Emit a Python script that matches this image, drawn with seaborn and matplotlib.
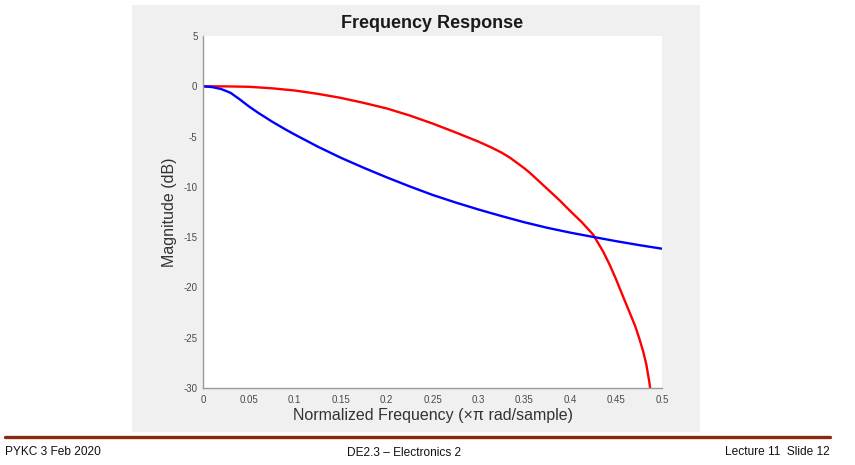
import numpy as np
import pandas as pd
import matplotlib
matplotlib.use("Agg")
import matplotlib.pyplot as plt
from matplotlib.patches import Rectangle
from matplotlib.lines import Line2D
import seaborn as sns

# ─── DATA ──────────────────────────────────────────────
red_freq = [0, 0.025, 0.05, 0.075, 0.1, 0.125, 0.15, 0.175, 0.2, 0.225, 0.25, 0.275,
            0.3, 0.3126, 0.325, 0.3344, 0.35, 0.356, 0.375, 0.388, 0.4, 0.4125, 0.425,
            0.436, 0.443, 0.45, 0.458, 0.465, 0.4706, 0.475, 0.4796, 0.483, 0.486,
            0.4885, 0.491]
red_mag = [0, -0.01, -0.05, -0.2, -0.42, -0.75, -1.15, -1.65, -2.2, -2.9, -3.7, -4.58,
           -5.5, -6.02, -6.58, -7.1, -8.15, -8.6, -10.2, -11.3, -12.4, -13.5, -14.75,
           -16.45, -17.75, -19.2, -21.0, -22.55, -23.8, -25.0, -26.4, -27.7, -29.3,
           -31.0, -33.0]

blue_freq = [0, 0.01, 0.02, 0.03, 0.04, 0.05, 0.06, 0.075, 0.09, 0.1, 0.125, 0.15, 0.175,
             0.2, 0.225, 0.25, 0.275, 0.3, 0.325, 0.35, 0.375, 0.4, 0.425, 0.45, 0.475, 0.5]
blue_mag = [0, -0.08, -0.28, -0.65, -1.3, -2.0, -2.63, -3.5, -4.3, -4.8, -6.0, -7.1, -8.1,
            -9.05, -9.95, -10.8, -11.55, -12.25, -12.9, -13.52, -14.07, -14.55, -14.98,
            -15.4, -15.79, -16.15]

x_ticks = [0, 0.05, 0.1, 0.15, 0.2, 0.25, 0.3, 0.35, 0.4, 0.45, 0.5]
x_tick_labels = ["0", "0.05", "0.1", "0.15", "0.2", "0.25", "0.3", "0.35", "0.4", "0.45", "0.5"]
y_ticks = [-30, -25, -20, -15, -10, -5, 0, 5]
y_tick_labels = ["-30", "-25", "-20", "-15", "-10", "-5", "0", "5"]

df = pd.concat([
    pd.DataFrame({"freq": red_freq, "mag": red_mag, "filt": "red"}),
    pd.DataFrame({"freq": blue_freq, "mag": blue_mag, "filt": "blue"}),
])

# ─── STYLE ─────────────────────────────────────────────
sns.set_theme(style="white")
plt.rcParams["font.family"] = ["Liberation Sans", "DejaVu Sans"]
plt.rcParams["axes.unicode_minus"] = False

fig = plt.figure(figsize=(8.55, 4.65), dpi=100)
fig.patch.set_facecolor("white")

# matlab figure window (grey panel), behind the axes
fig.patches.append(Rectangle((132 / 855, 1 - 432 / 465), (700 - 132) / 855, (432 - 5) / 465,
                             transform=fig.transFigure, facecolor="#f0f0f0",
                             edgecolor="none", zorder=-5))

ax = fig.add_axes([203 / 855, 1 - 388 / 465, (662 - 203) / 855, (388 - 36) / 465])
ax.set_facecolor("white")

sns.lineplot(data=df, x="freq", y="mag", hue="filt", sort=False,
             palette={"red": "#ff0000", "blue": "#0000ff"},
             linewidth=1.7, legend=False, ax=ax)

ax.set_xlim(0, 0.5)
ax.set_ylim(-30, 5)
ax.set_xticks(x_ticks)
ax.set_xticklabels(x_tick_labels)
ax.set_yticks(y_ticks)
ax.set_yticklabels(y_tick_labels)
ax.tick_params(axis="both", direction="in", length=3.5, width=0.8, color="#8c8c8c",
               labelsize=7, labelcolor="#4a4a4a", pad=4)
ax.tick_params(axis="x", pad=5)
for side in ["top", "right"]:
    ax.spines[side].set_visible(False)
for side in ["left", "bottom"]:
    ax.spines[side].set_color("#9a9a9a")
    ax.spines[side].set_linewidth(1.0)

ax.set_title("Frequency Response", fontsize=13, fontweight="bold", color="#1a1a1a", pad=6)
ax.set_xlabel("Normalized Frequency (×π rad/sample)", fontsize=11.5, color="#333333", labelpad=2)
ax.set_ylabel("Magnitude (dB)", fontsize=11.5, color="#333333", labelpad=5)

# slide footer
fig.add_artist(Line2D([5 / 855, 830 / 855], [1 - 436.5 / 465] * 2, transform=fig.transFigure,
                      color="#8b2a0e", linewidth=2.4))
fig.text(5 / 855, 1 - 452 / 465, "PYKC 3 Feb 2020", fontsize=8.6, ha="left", va="center", color="#111111")
fig.text(404 / 855, 1 - 453 / 465, "DE2.3 – Electronics 2", fontsize=8.6, ha="center", va="center", color="#111111")
fig.text(830 / 855, 1 - 452 / 465, "Lecture 11  Slide 12", fontsize=8.6, ha="right", va="center", color="#111111")

fig.savefig("out.png", dpi=100, facecolor="white")
